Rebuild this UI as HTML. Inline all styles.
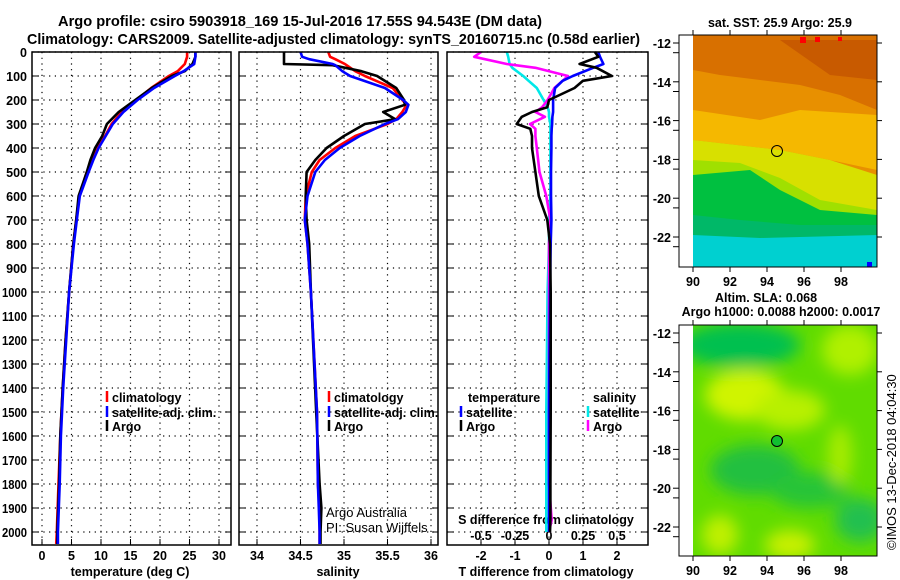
<!DOCTYPE html>
<html><head><meta charset="utf-8"><style>
body{margin:0;background:#fff;}
svg{display:block;font-family:"Liberation Sans",sans-serif;}
.t{font-weight:bold;font-size:12.5px;}
.ti{font-weight:bold;font-size:15px;}
</style></head><body>
<svg id="c" width="900" height="580" viewBox="0 0 900 580">
<defs>
<filter id="bl" x="-50%" y="-50%" width="200%" height="200%"><feGaussianBlur stdDeviation="8"/></filter>
<clipPath id="cm1"><rect x="693" y="35" width="184" height="232"/></clipPath>
<clipPath id="cm2"><rect x="693" y="325" width="184" height="231"/></clipPath>
</defs>
<text class="ti" x="58" y="26" textLength="484" lengthAdjust="spacingAndGlyphs">Argo profile: csiro 5903918_169 15-Jul-2016 17.55S 94.543E (DM data)</text>
<text class="ti" x="27" y="44" textLength="613" lengthAdjust="spacingAndGlyphs">Climatology: CARS2009. Satellite-adjusted climatology: synTS_20160715.nc (0.58d earlier)</text>

<g id="maps">
<text class="t" x="780" y="27" text-anchor="middle">sat. SST: 25.9 Argo: 25.9</text>
<g clip-path="url(#cm1)">
<rect x="693" y="35" width="184" height="232" fill="#e89000"/>
<polygon points="693,35 877,35 877,110 840,95 800,85 760,80 720,75 693,70" fill="#d87000"/>
<polygon points="780,40 877,40 877,80 830,75" fill="#c85a00"/>
<polygon points="693,110 760,120 800,110 877,115 877,170 830,160 780,150 693,140" fill="#f5b800"/>
<polygon points="693,140 780,150 830,160 877,175 877,215 820,205 780,180 740,165 693,165" fill="#d8e000"/>
<polygon points="693,160 740,163 780,178 820,200 877,210 877,225 820,225 780,210 693,190" fill="#a0e000"/>
<polygon points="693,175 750,170 780,190 820,210 877,215 877,240 693,240" fill="#00c040"/>
<polygon points="693,215 740,220 800,225 877,225 877,267 693,267" fill="#00b868"/>
<polygon points="693,235 760,238 877,235 877,267 693,267" fill="#00d0d0"/>
<rect x="800" y="37" width="6" height="6" fill="#f00"/><rect x="815" y="37" width="5" height="5" fill="#f00"/><rect x="838" y="37" width="4" height="4" fill="#f00"/>
<rect x="867" y="262" width="5" height="5" fill="#00f"/>
</g>
<rect x="679" y="35" width="198" height="232" fill="none" stroke="#000"/>
<circle cx="777" cy="151" r="5.5" fill="none" stroke="#000"/>

<text class="t" x="766" y="302" text-anchor="middle">Altim. SLA: 0.068</text>
<text class="t" x="781" y="316" text-anchor="middle">Argo h1000: 0.0088 h2000: 0.0017</text>
<g clip-path="url(#cm2)">
<rect x="693" y="325" width="184" height="231" fill="#60dc00"/>
<g filter="url(#bl)">
<ellipse cx="740" cy="345" rx="60" ry="22" fill="#00c050"/>
<ellipse cx="745" cy="395" rx="40" ry="25" fill="#d0f400"/>
<ellipse cx="790" cy="410" rx="35" ry="20" fill="#b8f000"/>
<ellipse cx="850" cy="350" rx="28" ry="25" fill="#b0f000"/>
<ellipse cx="755" cy="470" rx="45" ry="25" fill="#20c040"/>
<ellipse cx="810" cy="490" rx="40" ry="18" fill="#28c438"/>
<ellipse cx="860" cy="520" rx="25" ry="22" fill="#20c050"/>
<ellipse cx="720" cy="535" rx="18" ry="20" fill="#c0f000"/>
<ellipse cx="790" cy="545" rx="25" ry="15" fill="#c8f000"/>
<ellipse cx="840" cy="455" rx="12" ry="30" fill="#a8ec00"/>
</g>
</g>
<rect x="679" y="325" width="198" height="231" fill="none" stroke="#000"/>
<circle cx="777" cy="441" r="5.5" fill="#10c030" stroke="#000"/>
<text x="896" y="550" transform="rotate(-90 896 550)" font-size="13">©IMOS 13-Dec-2018 04:04:30</text>
</g>
<g id="dyn"></g>
</svg>
<script>
// ---- data ----
const tDepth = [0,20,50,80,100,150,200,250,300,350,400,450,500,600,700,800,1000,1200,1400,1600,1800,2000,2050];
const tClim  = [24.6,24.6,24.2,23,21.5,18.5,16,13.5,11.8,10.7,9.4,8.5,7.6,6.3,5.8,5.3,4.6,4.0,3.5,3.1,2.8,2.5,2.4];
const tSat   = [26,26,25.8,24,22.5,19,16.2,13.8,12,10.8,9.6,8.7,7.9,6.4,5.9,5.4,4.6,4.1,3.6,3.2,3.0,2.7,2.7];
const tArgo  = [26,26,25.5,24.2,22,18.6,15.8,13.0,11,10.2,9.0,8.2,7.6,6.2,5.8,5.3,4.6,4.0,3.5,3.1,2.9,2.6,2.6];
const sDepth = [0,20,30,50,55,80,100,150,200,220,250,280,300,350,400,450,500,600,700,800,1000,1500,1800,1900,2000,2050];
const sClim  = [34.82,34.84,34.9,35.01,35.03,35.13,35.24,35.56,35.67,35.72,35.67,35.6,35.5,35.13,34.9,34.72,34.63,34.56,34.55,34.58,34.62,34.69,34.7,34.72,34.72,34.72];
const sSat   = [34.5,34.52,34.6,34.87,34.9,34.98,35.07,35.47,35.68,35.74,35.71,35.62,35.47,35.18,34.95,34.78,34.67,34.58,34.55,34.58,34.62,34.69,34.7,34.71,34.72,34.72];
const sArgo  = [34.31,34.31,34.31,34.31,34.87,35.2,35.38,35.6,35.69,35.7,35.45,35.59,35.24,35.0,34.8,34.67,34.57,34.56,34.57,34.6,34.62,34.68,34.72,34.74,34.73,34.73];
const dDepth = [0,20,50,66,100,120,150,200,230,250,270,300,320,350,400,500,600,700,800,1000,1500,1800,1950,2000];
const dTArgo = [1.35,1.45,0.9,1.4,1.85,1.0,0.75,0,-0.05,-0.5,-0.8,-0.95,-0.55,-0.5,-0.5,-0.4,-0.3,-0.05,0.03,0.05,0.05,0.04,0.04,0.03];
const dTSat  = [1.45,1.5,1.6,1.3,0.7,0.4,0.18,0.12,0.12,0.12,0.1,0.09,0.08,0.07,0.07,0.06,0.06,0.07,0.05,0.03,0.0,0.0,0.0,0.0];
const dSArgo = [-0.5,-0.55,-0.31,-0.1,0.14,0.1,0.04,-0.01,-0.05,-0.1,-0.03,-0.14,-0.1,-0.1,-0.09,-0.07,-0.02,0.01,0.0,0.0,0.0,0.0,0.02,0.0];
const dSSat  = [-0.31,-0.3,-0.29,-0.27,-0.19,-0.15,-0.09,-0.04,-0.01,0.0,0.0,0.01,0.01,0.01,0.01,0.01,0.01,0.0,0.0,-0.01,-0.02,-0.02,-0.02,-0.02];
const depthTicks = [0,100,200,300,400,500,600,700,800,900,1000,1100,1200,1300,1400,1500,1600,1700,1800,1900,2000];
const tTicks = [0,5,10,15,20,25,30];
const sTicks = [34,34.5,35,35.5,36];
const dtTicks = [-2,-1,0,1,2];
const dsTicks = [-0.5,-0.25,0,0.25,0.5];
const latTicks = [-12,-14,-16,-18,-20,-22];
const lonTicks = [90,92,94,96,98];

// ---- scales ----
const NS='http://www.w3.org/2000/svg';
const g=document.getElementById('dyn');
const yD=d=>52+0.24*d;
const xT=v=>42+5.9*v;
const xS=v=>257+87*(v-34);
const xDT=v=>549+34*v;
const xDS=v=>549+136*v;
const latY1=l=>43+(-12-l)*19.4;
const latY2=l=>333+(-12-l)*19.4;
const lonX=l=>693+(l-90)*18.5;
function mk(tag,attrs,parent){const e=document.createElementNS(NS,tag);for(const k in attrs)e.setAttribute(k,attrs[k]);(parent||g).appendChild(e);return e;}
function txt(x,y,s,cls,anchor){const e=mk('text',{x:x,y:y,'text-anchor':anchor||'middle'});if(cls)e.setAttribute('class',cls);e.textContent=s;return e;}

const panels=[{x0:32,x1:231,name:'temperature'},{x0:239,x1:438,name:'salinity'},{x0:447,x1:648,name:'difference'}];
const yBot=545;
panels.forEach((p,i)=>{
  depthTicks.forEach(d=>{
    const l=mk('line',{x1:p.x0,x2:p.x1,y1:yD(d),y2:yD(d),stroke:'#000','stroke-dasharray':'1.2,4.5','stroke-width':1.2});
    
    
    mk('line',{x1:p.x0,x2:p.x0+6,y1:yD(d),y2:yD(d),stroke:'#000'});
    mk('line',{x1:p.x1-6,x2:p.x1,y1:yD(d),y2:yD(d),stroke:'#000'});
  });
});
depthTicks.forEach(d=>{
  const t=txt(27,yD(d)+5,String(d),'t','end');
  if(d>=1000){t.setAttribute('textLength','25');t.setAttribute('lengthAdjust','spacingAndGlyphs');}
  
  
});
function vgrid(ticks,fx,p){ticks.forEach(v=>{
  const l=mk('line',{x1:fx(v),x2:fx(v),y1:52,y2:yBot,stroke:'#000','stroke-dasharray':'1.2,4.5','stroke-width':1.2});
  
  
  mk('line',{x1:fx(v),x2:fx(v),y1:yBot-6,y2:yBot,stroke:'#000'});
});}
vgrid(tTicks,xT,panels[0]);vgrid(sTicks,xS,panels[1]);vgrid(dtTicks,xDT,panels[2]);
tTicks.forEach(v=>{const t=txt(xT(v),560,String(v),'t');});
sTicks.forEach(v=>{const t=txt(xS(v),560,String(v),'t');});
dtTicks.forEach(v=>{const t=txt(xDT(v),560,String(v),'t');});
dsTicks.forEach(v=>{const t=txt(xDS(v),540,String(v),'t');});
let a=txt(130,576,'temperature (deg C)','t');
a=txt(338,576,'salinity','t');
a=txt(546,576,'T difference from climatology','t');
a=txt(546,524,'S difference from climatology','t');
a=txt(326,517,'Argo Australia',null,'start');a.setAttribute('font-size','13');
a=txt(326,532,'PI: Susan Wijffels',null,'start');a.setAttribute('font-size','13');

function line(depths,vals,fx,color,name){
  const pts=vals.map((v,i)=>fx(v).toFixed(1)+','+yD(depths[i]).toFixed(1)).join(' ');
  const e=mk('polyline',{points:pts,fill:'none',stroke:color,'stroke-width':2.6,'stroke-linejoin':'round'});
  
  
}
line(tDepth,tClim,xT,'#f00','temperature-climatology-line');
line(tDepth,tArgo,xT,'#000','temperature-argo-line');
line(tDepth,tSat,xT,'#00f','temperature-satellite-line');
line(sDepth,sClim,xS,'#f00','salinity-climatology-line');
line(sDepth,sArgo,xS,'#000','salinity-argo-line');
line(sDepth,sSat,xS,'#00f','salinity-satellite-line');
line(dDepth,dSSat,xDS,'#00e8e8','s-diff-satellite-line');
line(dDepth,dSArgo,xDS,'#f0f','s-diff-argo-line');
line(dDepth,dTSat,xDT,'#00f','t-diff-satellite-line');
line(dDepth,dTArgo,xDT,'#000','t-diff-argo-line');

panels.forEach(p=>{const r=mk('rect',{x:p.x0,y:52,width:p.x1-p.x0,height:yBot-52,fill:'none',stroke:'#000','stroke-width':1.5});});

function legend(x,y,color,label,name){
  mk('line',{x1:x,x2:x,y1:y-6,y2:y+5,stroke:color,'stroke-width':2.5});
  const t=txt(x+5,y+5,label,'t','start');
  
  
}
legend(107,397,'#f00','climatology','temp-legend-climatology');
legend(107,412,'#00f','satellite-adj. clim.','temp-legend-satellite');
legend(107,426,'#000','Argo','temp-legend-argo');
legend(329,397,'#f00','climatology','sal-legend-climatology');
legend(329,412,'#00f','satellite-adj. clim.','sal-legend-satellite');
legend(329,426,'#000','Argo','sal-legend-argo');
a=txt(468,402,'temperature','t','start');
legend(461,412,'#00f','satellite','diff-legend-t-satellite');
legend(461,426,'#000','Argo','diff-legend-t-argo');
a=txt(593,402,'salinity','t','start');
legend(588,412,'#00e8e8','satellite','diff-legend-s-satellite');
legend(588,426,'#f0f','Argo','diff-legend-s-argo');

[[latY1,35,267],[latY2,325,556]].forEach(([fy,top,bot])=>{
  latTicks.forEach(l=>{
    const y=fy(l);
    mk('line',{x1:679,x2:673,y1:y,y2:y,stroke:'#000'});
    mk('line',{x1:877,x2:882,y1:y,y2:y,stroke:'#000'});
    mk('line',{x1:679,x2:673,y1:y+9.7,y2:y+9.7,stroke:'#000'});
    const t=txt(671,y+5,String(l),'t','end');
    
    
  });
  lonTicks.forEach(l=>{
    const x=lonX(l);
    mk('line',{x1:x,x2:x,y1:top,y2:top-5,stroke:'#000'});
    mk('line',{x1:x,x2:x,y1:bot,y2:bot+5,stroke:'#000'});
    const t=txt(x,bot+19,String(l),'t');
    
    
  });
});
</script>
</body></html>
